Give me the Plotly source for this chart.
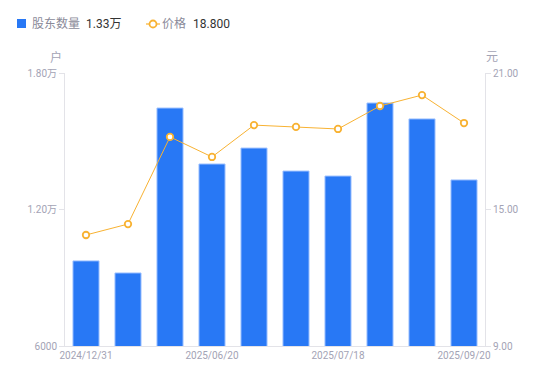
import plotly.graph_objects as go

dates = ["2024/12/31", "2025/03/31", "2025/06/10", "2025/06/20", "2025/06/30",
         "2025/07/10", "2025/07/18", "2025/08/10", "2025/08/31", "2025/09/20"]
holders = [9740, 9210, 16460, 14000, 14700, 13690, 13470, 16680, 15980, 13300]
prices = [13.88, 14.36, 18.19, 17.31, 18.71, 18.63, 18.54, 19.55, 20.03, 18.80]
tick_dates = ["2024/12/31", "2025/06/20", "2025/07/18", "2025/09/20"]
left_ticks = [6000, 12000, 18000]
left_labels = ["6000", "1.20万", "1.80万"]
right_ticks = [9, 15, 21]
right_labels = ["9.00", "15.00", "21.00"]

FONT = "Roboto, 'Noto Sans CJK SC', sans-serif"
AX = "#e3e3e8"
TXT = "#a3a3b5"
BLUE = "#2878F5"
ORANGE = "#F8B232"

L, R, T, B, W, H = 65, 65, 73, 35, 550, 381
PW, PH = W - L - R, H - T - B


def px(x):
    return (x - L) / PW


def py(y):
    return (H - B - y) / PH


fig = go.Figure()
fig.add_trace(go.Bar(
    x=dates, y=holders, yaxis="y",
    marker=dict(color=BLUE, line=dict(color="#9CC0FF", width=1)),
    width=0.62, name="股东数量",
))
fig.add_trace(go.Scatter(
    x=dates, y=prices, yaxis="y2", mode="lines+markers",
    line=dict(color=ORANGE, width=1),
    marker=dict(symbol="circle", size=6.5, color="white", line=dict(color=ORANGE, width=1.8)),
    name="价格",
))

shapes = [
    dict(type="rect", xref="paper", yref="paper", x0=px(17), x1=px(26), y0=py(28), y1=py(19),
         fillcolor=BLUE, line=dict(width=0), layer="above"),
    dict(type="line", xref="paper", yref="paper", x0=px(146), x1=px(160), y0=py(24), y1=py(24),
         line=dict(color=ORANGE, width=1.2)),
    dict(type="circle", xref="paper", yref="paper", x0=px(149.5), x1=px(156.5), y0=py(27.5), y1=py(20.5),
         fillcolor="white", line=dict(color=ORANGE, width=1.8)),
]

annotations = [
    dict(text="户", xref="paper", yref="paper", x=px(64), y=py(57), xanchor="right",
         yanchor="middle", showarrow=False, font=dict(size=12, color=TXT)),
    dict(text="元", xref="paper", yref="paper", x=px(484), y=py(57), xanchor="left",
         yanchor="middle", showarrow=False, font=dict(size=12, color=TXT)),
    dict(text="股东数量", xref="paper", yref="paper", x=px(30), y=py(24), xanchor="left",
         yanchor="middle", showarrow=False, font=dict(size=12, color="#8a8a99")),
    dict(text="1.33万", xref="paper", yref="paper", x=px(84), y=py(24), xanchor="left",
         yanchor="middle", showarrow=False, font=dict(size=12, color="#333333")),
    dict(text="价格", xref="paper", yref="paper", x=px(160), y=py(24), xanchor="left",
         yanchor="middle", showarrow=False, font=dict(size=12, color="#8a8a99")),
    dict(text="18.800", xref="paper", yref="paper", x=px(191), y=py(24), xanchor="left",
         yanchor="middle", showarrow=False, font=dict(size=12, color="#333333")),
]

fig.update_layout(
    width=W, height=H,
    margin=dict(l=L, r=R, t=T, b=B, autoexpand=False),
    paper_bgcolor="white", plot_bgcolor="white",
    font=dict(family=FONT, size=10, color=TXT),
    showlegend=False,
    xaxis=dict(type="category", range=[-0.5, 9.5], tickmode="array",
               tickvals=tick_dates, ticktext=tick_dates,
               showline=True, linecolor=AX, linewidth=1, ticks="", showgrid=False,
               tickfont=dict(size=10, color=TXT), zeroline=False, automargin=False),
    yaxis=dict(range=[6000, 18000], tickvals=left_ticks, ticktext=left_labels,
               showline=True, linecolor=AX, linewidth=1, ticks="outside", ticklen=5,
               tickcolor=AX, showgrid=False, zeroline=False, automargin=False,
               tickfont=dict(size=10, color=TXT)),
    yaxis2=dict(range=[9, 21], tickvals=right_ticks, ticktext=right_labels,
                overlaying="y", side="right", automargin=False,
                showline=True, linecolor=AX, linewidth=1, ticks="outside", ticklen=5,
                tickcolor=AX, showgrid=False, zeroline=False,
                tickfont=dict(size=10, color=TXT)),
    shapes=shapes,
    annotations=annotations,
)

fig.write_html("out.html", config={"displayModeBar": False},
               post_script="document.body.style.margin='0';document.body.style.padding='0';")
